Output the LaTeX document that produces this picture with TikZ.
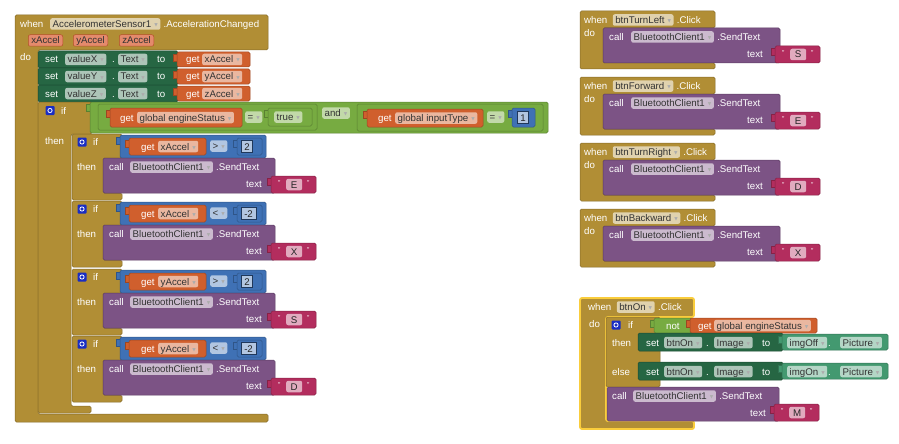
\documentclass[tikz,border=0pt]{standalone}
\usepackage{fontspec}
\setmainfont{Liberation Sans}
\newfontfamily\symf{DejaVu Sans}
\usetikzlibrary{positioning}

\definecolor{ctrl}{RGB}{177,142,53}
\definecolor{setg}{RGB}{38,102,67}
\definecolor{getc}{RGB}{67,153,112}
\definecolor{vari}{RGB}{208,95,45}
\definecolor{mathb}{RGB}{63,113,181}
\definecolor{logic}{RGB}{119,171,65}
\definecolor{txtb}{RGB}{179,45,94}
\definecolor{meth}{RGB}{124,83,133}
\definecolor{param}{RGB}{228,138,108}
\definecolor{selc}{RGB}{250,205,60}
\definecolor{gearb}{RGB}{25,45,195}
\colorlet{ctrlf}{ctrl!40!white}
\colorlet{setf}{setg!38!white}
\colorlet{getf}{getc!40!white}
\colorlet{varf}{vari!45!white}
\colorlet{mathf}{mathb!40!white}
\colorlet{logf}{logic!45!white}
\colorlet{txtf}{txtb!40!white}
\colorlet{methf}{meth!40!white}

\newcommand{\dd}{\hspace{3pt}{\symf\fontsize{4.5}{5}\selectfont\color{white!35!gray}\raisebox{1pt}{▼}}\hspace{1pt}}
\newcommand{\tab}[3]{\path[blk=#1, rounded corners=0pt] (#2-4,#3+2) rectangle (#2+1,#3+9);}
\newcommand{\gear}[2]{%
  \fill[gearb, rounded corners=1pt] (#1-4.5,#2-4.5) rectangle (#1+4.5,#2+4.5);
  \draw[white, line width=.8pt] (#1,#2) circle (2.1pt);}
\newcommand{\tblk}[4]{%
  \tab{txtb}{#1}{#2}
  \path[blk=txtb] (#1,#2) rectangle (#1+45,#2+17);
  \node[qt] (#4a) at (#1+7,#2+6) {"};
  \node[cfld] (#4) at (#1+15,#2+8.5) {#3};
  \node[qt] (#4b) at (#1+36,#2+6) {"};}

\begin{document}
\begin{tikzpicture}[x=1pt, y=-1pt,
  every node/.style={font=\fontsize{9.7}{11}\selectfont, inner sep=0pt,
    text height=7pt, text depth=0pt, anchor=west},
  lbl/.style={text=white},
  qt/.style={text=white, font=\fontsize{7}{7}\selectfont},
  fld/.style={fill=#1, rounded corners=2pt, inner xsep=2.5pt,
    minimum height=11.5pt, text=black!80},
  pfld/.style={fill=param, draw=vari!85!black, line width=.5pt,
    rounded corners=2pt, inner xsep=3pt, minimum height=11.5pt, text=black!80},
  nfld/.style={fill=mathf, draw=mathb!50!black, line width=.5pt,
    inner xsep=3pt, minimum height=12pt, text=black!85},
  cfld/.style={fill=txtf, rounded corners=2pt, minimum width=16pt,
    minimum height=11.5pt, text=black!85},
  blk/.style={fill=#1, draw=#1!75!black, line width=.5pt, rounded corners=1.5pt}]
  \useasboundingbox (0,0) rectangle (899,444);

  % accelerometer event
  \draw[blk=ctrl] (15,15) -- (268,15) -- (268,50) -- (38,50) -- (38,414)
    -- (268,414) -- (268,422) -- (15,422) -- cycle;
  \node[lbl] (when1) at (20,24) {when};
  \node[fld=ctrlf] (acc) at (50,24) {AccelerometerSensor1\dd};
  \node[lbl, right=3pt of acc] (accev) {.AccelerationChanged};
  \node[pfld] (px) at (28,40.5) {xAccel};
  \node[pfld] (py) at (73,40.5) {yAccel};
  \node[pfld] (pz) at (119,40.5) {zAccel};
  \node[lbl] (do1) at (20,57) {do};

  \foreach \r/\v/\g [count=\i] in {51/valueX/xAccel, 68/valueY/yAccel, 85/valueZ/zAccel}{
    \path[blk=setg] (38,\r) rectangle (178,\r+17);
    \tab{vari}{177}{\r+1}
    \path[blk=vari] (177,\r+1) rectangle (250,\r+16);
    \node[lbl] (set\i) at (45,\r+8.5) {set};
    \node[fld=setf] (sv\i) at (65,\r+8.5) {\v\dd};
    \node[lbl] (dot\i) at (112,\r+8.5) {.};
    \node[fld=setf] (st\i) at (118,\r+8.5) {Text\dd};
    \node[lbl] (to\i) at (157,\r+8.5) {to};
    \node[lbl] (get\i) at (186,\r+8.5) {get};
    \node[fld=varf] (gv\i) at (202,\r+8.5) {\g\dd};
  }

  % outer if
  \draw[blk=ctrl] (38,102) -- (92,102) -- (92,134) -- (71,134) -- (71,406)
    -- (91,406) -- (91,413) -- (38,413) -- cycle;
  \gear{50}{110.5}
  \node[lbl] (if0) at (61,110.5) {if};
  \node[lbl] (then0) at (45,141) {then};

  \tab{logic}{90}{102}
  \path[blk=logic] (90,102) rectangle (548,133);
  \path[blk=logic] (98,104) rectangle (317,130);
  \tab{vari}{110}{108}
  \path[blk=vari] (110,108) rectangle (242,127);
  \node[lbl] (geta) at (120,117.5) {get};
  \node[fld=varf] (gva) at (137,117.5) {global engineStatus\dd};
  \node[fld=logf] (eqa) at (245,117) {=\dd};
  \tab{logic}{268}{108}
  \path[blk=logic] (268,108) rectangle (312,126);
  \node[fld=logf] (tru) at (274,117) {true\dd};
  \node[fld=logf] (andf) at (322,113) {and\dd};
  \path[blk=logic] (357,104) rectangle (543,131);
  \tab{vari}{367}{109}
  \path[blk=vari] (367,109) rectangle (483,127);
  \node[lbl] (getb) at (378,118) {get};
  \node[fld=varf] (gvb) at (395,118) {global inputType\dd};
  \node[fld=logf] (eqb) at (487,117) {=\dd};
  \tab{mathb}{512}{108}
  \path[blk=mathb] (512,108) rectangle (535,127);
  \node[nfld] (one) at (517,117.5) {1};

  % inner ifs
  \foreach \T/\v/\o/\n/\c [count=\i] in {134/xAccel/>/2/E, 201/xAccel/</-2/X,
      269/yAccel/>/2/S, 336/yAccel/</-2/D}{
    \draw[blk=ctrl] (72,\T) -- (122,\T) -- (122,\T+24) -- (103,\T+24) -- (103,\T+59)
      -- (122,\T+59) -- (122,\T+66) -- (72,\T+66) -- cycle;
    \gear{82}{\T+8}
    \node[lbl] (if\i) at (93,\T+8) {if};
    \tab{mathb}{120}{\T+1}
    \path[blk=mathb] (120,\T+1) rectangle (266,\T+24);
    \tab{vari}{129}{\T+4}
    \path[blk=vari] (129,\T+4) rectangle (206,\T+21);
    \node[lbl] (g\i) at (141,\T+12.5) {get};
    \node[fld=varf] (gf\i) at (158,\T+12.5) {\v\dd};
    \node[fld=mathf] (op\i) at (210,\T+12) {\o\dd};
    \tab{mathb}{237}{\T+4}
    \path[blk=mathb] (237,\T+4) rectangle (262,\T+21);
    \node[nfld] (num\i) at (241,\T+12.5) {\n};
    \node[lbl] (th\i) at (77,\T+33) {then};
    \path[blk=meth] (103,\T+24) rectangle (275,\T+59);
    \node[lbl] (cl\i) at (109,\T+33) {call};
    \node[fld=methf] (bt\i) at (130,\T+33) {BluetoothClient1\dd};
    \node[lbl, right=3pt of bt\i] (snd\i) {.SendText};
    \node[lbl] (tx\i) at (246,\T+50) {text};
    \tblk{271}{\T+42}{\c}{s\i}
  }

  % button events
  \foreach \T/\b/\c [count=\i] in {11/btnTurnLeft/S, 77/btnForward/E,
      143/btnTurnRight/D, 209/btnBackward/X}{
    \draw[blk=ctrl] (580,\T) -- (715,\T) -- (715,\T+17) -- (603,\T+17) -- (603,\T+52)
      -- (715,\T+52) -- (715,\T+58) -- (580,\T+58) -- cycle;
    \node[lbl] (w\i) at (584,\T+9) {when};
    \node[fld=ctrlf, right=5pt of w\i] (f\i) {\b\dd};
    \node[lbl, right=3pt of f\i] (k\i) {.Click};
    \node[lbl] (d\i) at (584,\T+22) {do};
    \path[blk=meth] (603,\T+17) rectangle (780,\T+52);
    \node[lbl] (c\i) at (609,\T+26) {call};
    \node[fld=methf] (bc\i) at (631,\T+26) {BluetoothClient1\dd};
    \node[lbl, right=3pt of bc\i] (sn\i) {.SendText};
    \node[lbl] (t\i) at (747,\T+43) {text};
    \tblk{775}{\T+35}{\c}{r\i}
  }

  % btnOn event
  \draw[blk=ctrl, draw=selc, line width=1.8pt, rounded corners=2pt] (580,298) -- (694,298)
    -- (694,317) -- (606,317) -- (606,421) -- (694,421) -- (694,429) -- (580,429) -- cycle;
  \node[lbl] (whenon) at (588,307) {when};
  \node[fld=ctrlf, right=5pt of whenon] (fon) {btnOn\dd};
  \node[lbl, right=3pt of fon] (clk) {.Click};
  \node[lbl] (doon) at (589,324) {do};
  \path[blk=ctrl] (606,317) rectangle (660,387);
  \gear{616}{325}
  \node[lbl] (ifon) at (628,325) {if};
  \tab{logic}{654}{318}
  \path[blk=logic] (654,318) rectangle (692,333);
  \node[lbl] (noton) at (666,325.5) {not};
  \tab{vari}{690}{318}
  \path[blk=vari] (690,318) rectangle (817,333);
  \node[lbl] (geton) at (698,325.5) {get};
  \node[fld=varf] (gvon) at (714,325.5) {global engineStatus\dd};

  \foreach \y/\w/\im [count=\i] in {333/then/imgOff, 362/else/imgOn}{
    \node[lbl] (w\w) at (612,\y+9.5) {\w};
    \path[blk=setg] (638,\y) rectangle (783,\y+18);
    \node[lbl] (so\i) at (646,\y+9.5) {set};
    \node[fld=setf] (sb\i) at (664,\y+9.5) {btnOn\dd};
    \node[lbl] (sd\i) at (706,\y+9.5) {.};
    \node[fld=setf] (si\i) at (714,\y+9.5) {Image\dd};
    \node[lbl] (sto\i) at (762,\y+9.5) {to};
    \tab{getc}{782}{\y+1}
    \path[blk=getc] (782,\y+1) rectangle (888,\y+17);
    \node[fld=getf] (im\i) at (787,\y+9.5) {\im\dd};
    \node[lbl] (pd\i) at (828,\y+9.5) {.};
    \node[fld=getf] (pic\i) at (840,\y+9.5) {Picture\dd};
  }

  \path[blk=meth] (607,387) rectangle (779,421);
  \node[lbl] (callon) at (612,396) {call};
  \node[fld=methf] (bton) at (633,396) {BluetoothClient1\dd};
  \node[lbl, right=3pt of bton] (sndon) {.SendText};
  \node[lbl] (txon) at (750,413) {text};
  \tblk{774}{404}{M}{qm}
\end{tikzpicture}
\end{document}
